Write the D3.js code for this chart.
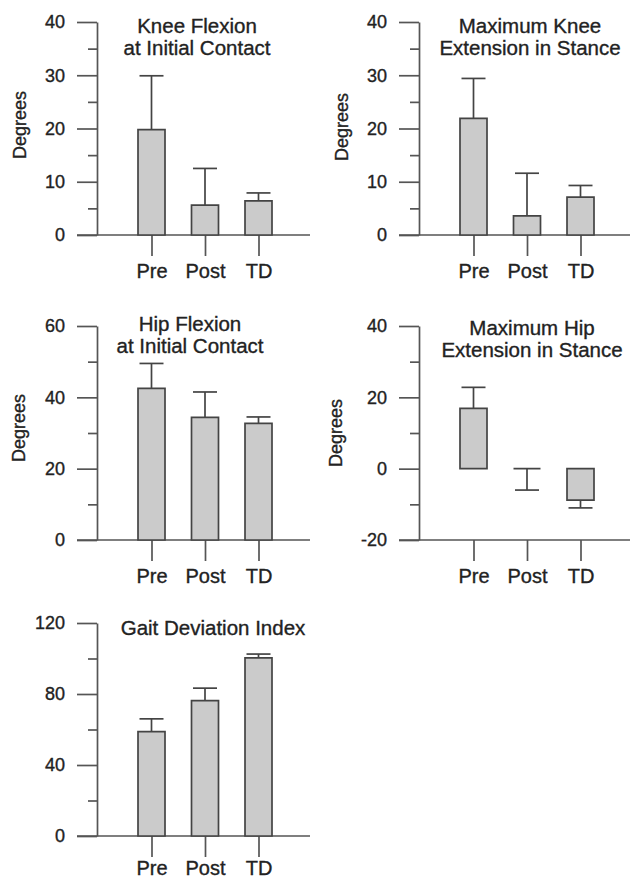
<!DOCTYPE html>
<html>
<head>
<meta charset="utf-8">
<script src="https://cdnjs.cloudflare.com/ajax/libs/d3/7.8.5/d3.min.js"></script>
<style>
  body { margin: 0; background: #fff; }
  svg { display: block; font-family: "Liberation Sans", Arial, sans-serif; }
  svg text { stroke: #222; stroke-width: 0.35px; }
</style>
</head>
<body>
<script>
// canvas
var w = 630;
var h = 881;

// data
var groups = ["Pre", "Post", "TD"];

var kneeFlexMean = [19.8, 5.6, 6.4];
var kneeFlexSd   = [10.1, 6.9, 1.5];

var kneeExtMean = [21.9, 3.6, 7.1];
var kneeExtSd   = [7.5, 8.0, 2.2];

var hipFlexMean = [42.5, 34.4, 32.7];
var hipFlexSd   = [7.0, 7.1, 1.8];

var hipExtMean = [16.9, 0, -8.8];
var hipExtSd   = [5.9, 6.0, 2.2];

var gdiMean = [58.8, 76.3, 100.3];
var gdiSd   = [7.2, 7.0, 2.2];

var kneeTicks = [0, 10, 20, 30, 40];
var hipFlexTicks = [0, 20, 40, 60];
var hipExtTicks = [-20, 0, 20, 40];
var gdiTicks = [0, 40, 80, 120];

// colours
var axisColor = "#555";
var barFill = "#cbcbcb";
var barStroke = "#444";
var textColor = "#222";

// layout magic numbers
var barWidth = 27;
var capWidth = 24;
var majorTick = 20;
var minorTick = 9;

var panels = [
  { title: ["Knee Flexion", "at Initial Contact"], mean: kneeFlexMean, sd: kneeFlexSd,
    ticks: kneeTicks, axisX: 97, top: 22, bottom: 235, right: 310, labelPad: 8,
    titleX: 197, titleY: 33, degX: 20, degY: 125, ylabel: true },
  { title: ["Maximum Knee", "Extension in Stance"], mean: kneeExtMean, sd: kneeExtSd,
    ticks: kneeTicks, axisX: 419, top: 22, bottom: 235, right: 632, labelPad: 8,
    titleX: 530, titleY: 33, degX: 342, degY: 127, ylabel: true },
  { title: ["Hip Flexion", "at Initial Contact"], mean: hipFlexMean, sd: hipFlexSd,
    ticks: hipFlexTicks, axisX: 97, top: 326, bottom: 540, right: 310, labelPad: 8,
    titleX: 190, titleY: 331, degX: 19, degY: 428, ylabel: true },
  { title: ["Maximum Hip", "Extension in Stance"], mean: hipExtMean, sd: hipExtSd,
    ticks: hipExtTicks, axisX: 419, top: 326, bottom: 540, right: 632, labelPad: 8,
    titleX: 532, titleY: 335, degX: 336, degY: 433, ylabel: true },
  { title: ["Gait Deviation Index"], mean: gdiMean, sd: gdiSd,
    ticks: gdiTicks, axisX: 97, top: 623, bottom: 836, right: 310, labelPad: 4,
    titleX: 213, titleY: 635, ylabel: false }
];

var svg = d3.select("body")
            .append("svg")
            .attr("width", w)
            .attr("height", h);

panels.forEach(function(p) {
  var lo = d3.min(p.ticks), hi = d3.max(p.ticks);
  var y = d3.scaleLinear().domain([lo, hi]).range([p.bottom, p.top]);
  var x = d3.scalePoint().domain(groups).range([p.axisX + 54.5, p.axisX + 161.5]);

  // minor ticks halfway between majors
  var step = p.ticks[1] - p.ticks[0];
  var minors = p.ticks.slice(0, -1).map(function(t) { return t + step / 2; });

  var g = svg.append("g");

  // y axis (major) - plain hyphen for negatives, like the original
  var yAxis = g.append("g")
    .attr("transform", "translate(" + p.axisX + ",0)")
    .call(d3.axisLeft(y).tickValues(p.ticks).tickSize(majorTick).tickSizeOuter(0).tickPadding(12)
            .tickFormat(function(d) { return String(d); }));
  // y axis (minor)
  var yMinor = g.append("g")
    .attr("transform", "translate(" + p.axisX + ",0)")
    .call(d3.axisLeft(y).tickValues(minors).tickSize(minorTick).tickSizeOuter(0).tickFormat(""));
  yMinor.select(".domain").remove();

  // x axis
  var xAxis = g.append("g")
    .attr("transform", "translate(0," + p.bottom + ")")
    .call(d3.axisBottom(x).tickSize(21).tickSizeOuter(0).tickPadding(p.labelPad));
  xAxis.select(".domain").remove();

  g.append("line")
    .attr("x1", p.axisX - majorTick).attr("x2", p.right)
    .attr("y1", p.bottom).attr("y2", p.bottom)
    .attr("stroke", axisColor).attr("stroke-width", 1.7);

  [yAxis, yMinor, xAxis].forEach(function(a) {
    a.selectAll("path, line").attr("stroke", axisColor).attr("stroke-width", 1.7);
  });
  yAxis.selectAll("text").attr("fill", textColor).style("font-size", "18px");
  xAxis.selectAll("text").attr("fill", textColor).style("font-size", "20px");

  var data = groups.map(function(k, i) { return { key: k, mean: p.mean[i], sd: p.sd[i] }; });
  var zero = y(0);
  // error end, away from zero (a zero mean is drawn downward, as in the hip extension panel)
  function errEnd(d) { return y(d.mean > 0 ? d.mean + d.sd : d.mean - d.sd); }

  var err = g.selectAll("g.err").data(data).enter().append("g").attr("class", "err");
  err.append("line")
    .attr("x1", function(d) { return x(d.key); })
    .attr("x2", function(d) { return x(d.key); })
    .attr("y1", function(d) { return y(d.mean); })
    .attr("y2", errEnd);
  err.append("line")
    .attr("x1", function(d) { return x(d.key) - capWidth / 2; })
    .attr("x2", function(d) { return x(d.key) + capWidth / 2; })
    .attr("y1", errEnd)
    .attr("y2", errEnd);
  err.selectAll("line").attr("stroke", barStroke).attr("stroke-width", 1.7);

  // bars as closed paths so a zero-height bar still shows as a line
  g.selectAll("path.bar").data(data).enter().append("path")
    .attr("class", "bar")
    .attr("d", function(d) {
      var x0 = x(d.key) - barWidth / 2, x1 = x(d.key) + barWidth / 2;
      return "M" + x0 + "," + zero + "V" + y(d.mean) + "H" + x1 + "V" + zero + "Z";
    })
    .attr("fill", barFill)
    .attr("stroke", barStroke)
    .attr("stroke-width", 1.7);

  // title
  var t = g.append("text")
    .attr("x", p.titleX).attr("y", p.titleY)
    .attr("text-anchor", "middle")
    .attr("fill", textColor)
    .style("font-size", "20.5px");
  p.title.forEach(function(line, i) {
    t.append("tspan").attr("x", p.titleX).attr("dy", i === 0 ? 0 : 22).text(line);
  });

  if (p.ylabel) {
    g.append("text")
      .attr("transform", "translate(" + (p.degX + 6) + "," + p.degY + ") rotate(-90)")
      .attr("text-anchor", "middle")
      .attr("fill", textColor)
      .style("font-size", "18px")
      .text("Degrees");
  }
});
</script>
</body>
</html>
